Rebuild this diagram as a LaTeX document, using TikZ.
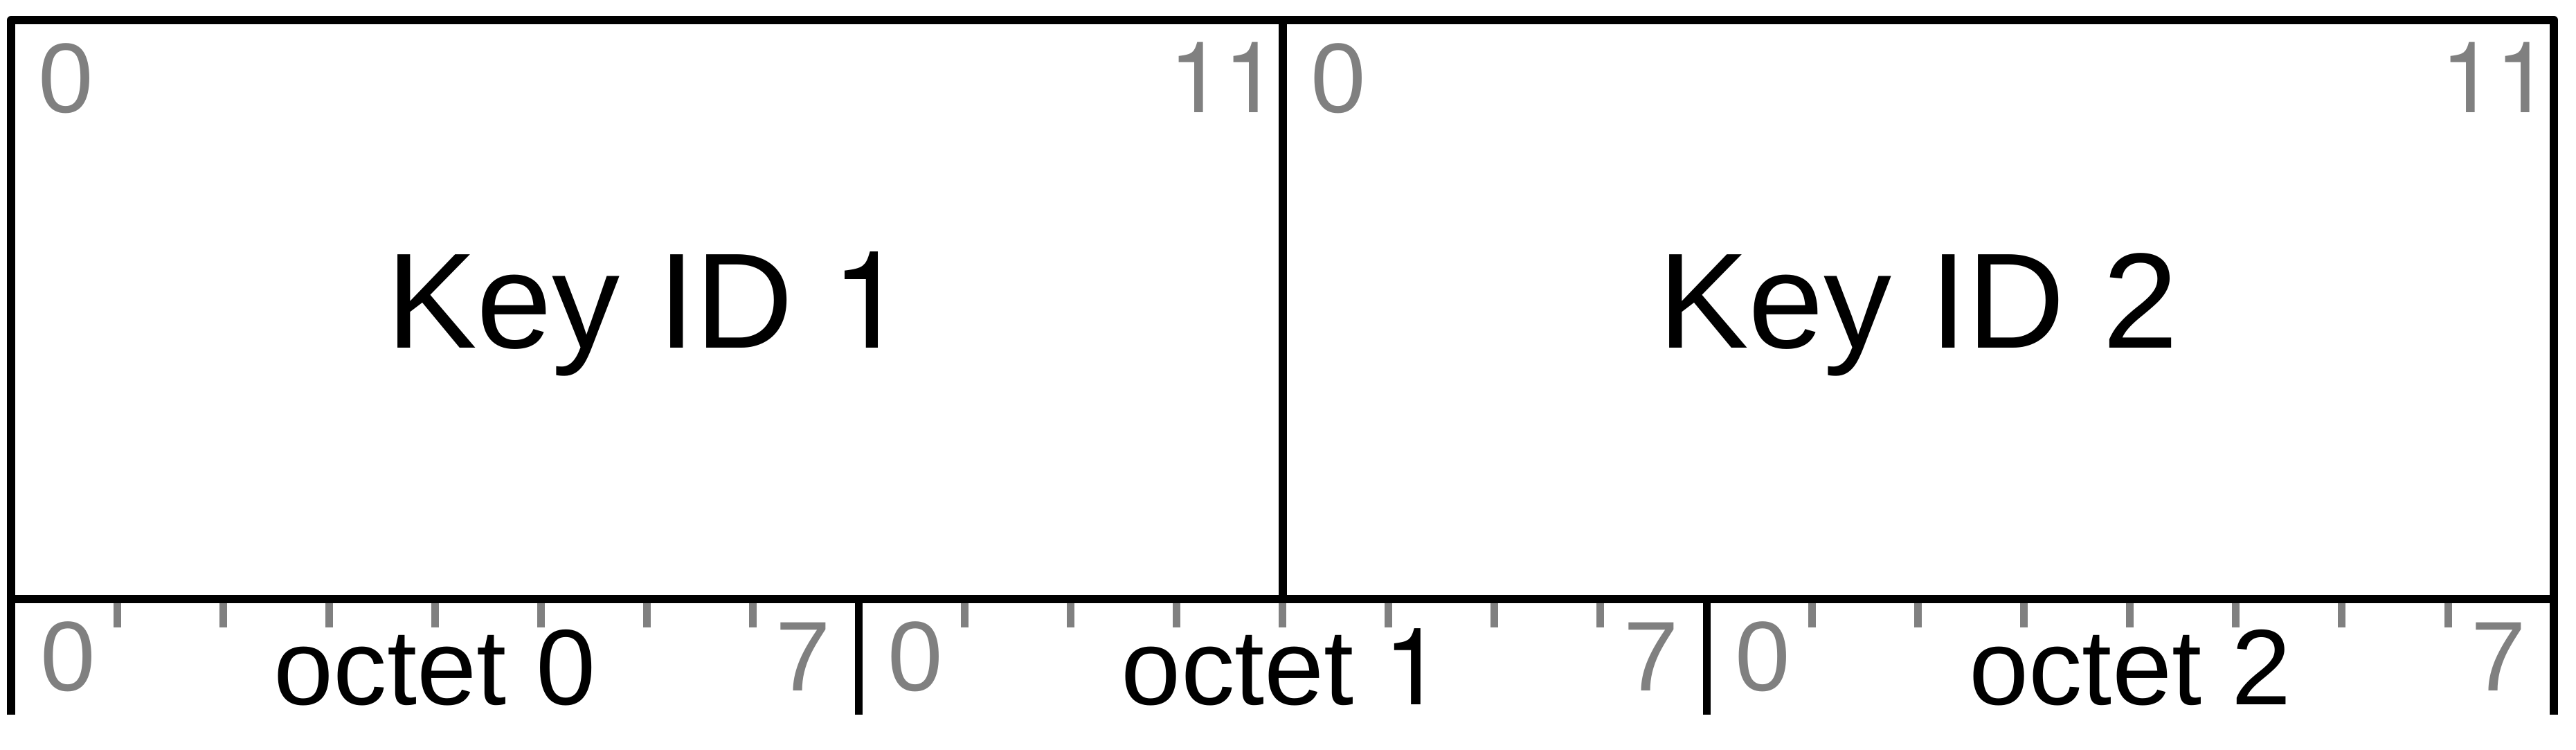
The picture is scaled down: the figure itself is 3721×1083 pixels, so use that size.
\documentclass[tikz,border=0pt]{standalone}
\usepackage{fontspec}
\setmainfont{Liberation Sans}
\newfontfamily\heros{TeX Gyre Heros}
\newcommand{\onedigit}{{\heros 1}}
\definecolor{bitgray}{HTML}{808080}
\begin{document}
\begin{tikzpicture}[x=0.1pt,y=-0.1pt,
  frame/.style={draw=black,line width=1.2pt,line join=round},
  divider/.style={draw=black,line width=1.1pt},
  tickmark/.style={draw=bitgray,line width=1.1pt},
  bitlabel/.style={inner sep=0pt,text=bitgray,font=\fontsize{14.3}{15}\selectfont},
  keylabel/.style={inner sep=0pt,text=black,font=\fontsize{19.6}{21}\selectfont},
  octlabel/.style={inner sep=0pt,text=black,font=\fontsize{15.5}{17}\selectfont}]
\useasboundingbox (0,0) rectangle (3721,1083);
% corner coordinates
\coordinate (tl) at (16,29);
\coordinate (tr) at (3689,29);
\coordinate (bl) at (16,1032);
\coordinate (br) at (3689,1032);
\coordinate (ml) at (16,865);
\coordinate (mr) at (3689,865);
\coordinate (dt) at (1853,29);
\coordinate (db) at (1853,865);
% ticks
\foreach \o in {0,1,2}{
  \foreach \k in {1,...,7}{
    \draw[tickmark] ({16+1224.33*\o+153.04*\k},865) -- ++(0,41);
  }
}
% frame
\draw[frame] (bl) -- (tl) -- (tr) -- (br);
\draw[frame] (ml) -- (mr);
\draw[frame] (dt) -- (db);
\coordinate (o1t) at (1240,865);
\coordinate (o1b) at (1240,1032);
\coordinate (o2t) at (2465,865);
\coordinate (o2b) at (2465,1032);
\draw[divider] (o1t) -- (o1b);
\draw[divider] (o2t) -- (o2b);
% top field labels
\node[bitlabel,anchor=base west] (f1s) at (53,163) {0};
\node[bitlabel,anchor=base east] (f1e) at (1849,163) {\onedigit\onedigit};
\node[bitlabel,anchor=base west] (f2s) at (1891,163) {0};
\node[bitlabel,anchor=base east] (f2e) at (3686,163) {\onedigit\onedigit};
\node[keylabel,anchor=base] (k1) at (934,503) {Key ID \onedigit};
\node[keylabel,anchor=base] (k2) at (2771,503) {Key ID 2};
% octet labels
\foreach \o/\lbl in {0/0,1/\onedigit,2/2}{
  \node[bitlabel,anchor=base west] (os\o) at ({16+1224.33*\o+40},998) {0};
  \node[bitlabel,anchor=base east] (oe\o) at ({16+1224.33*(\o+1)-38},998) {7};
  \node[octlabel,anchor=base] (ol\o) at ({16+1224.33*(\o+0.5)},1018) {octet \lbl};
}
\end{tikzpicture}
\end{document}
